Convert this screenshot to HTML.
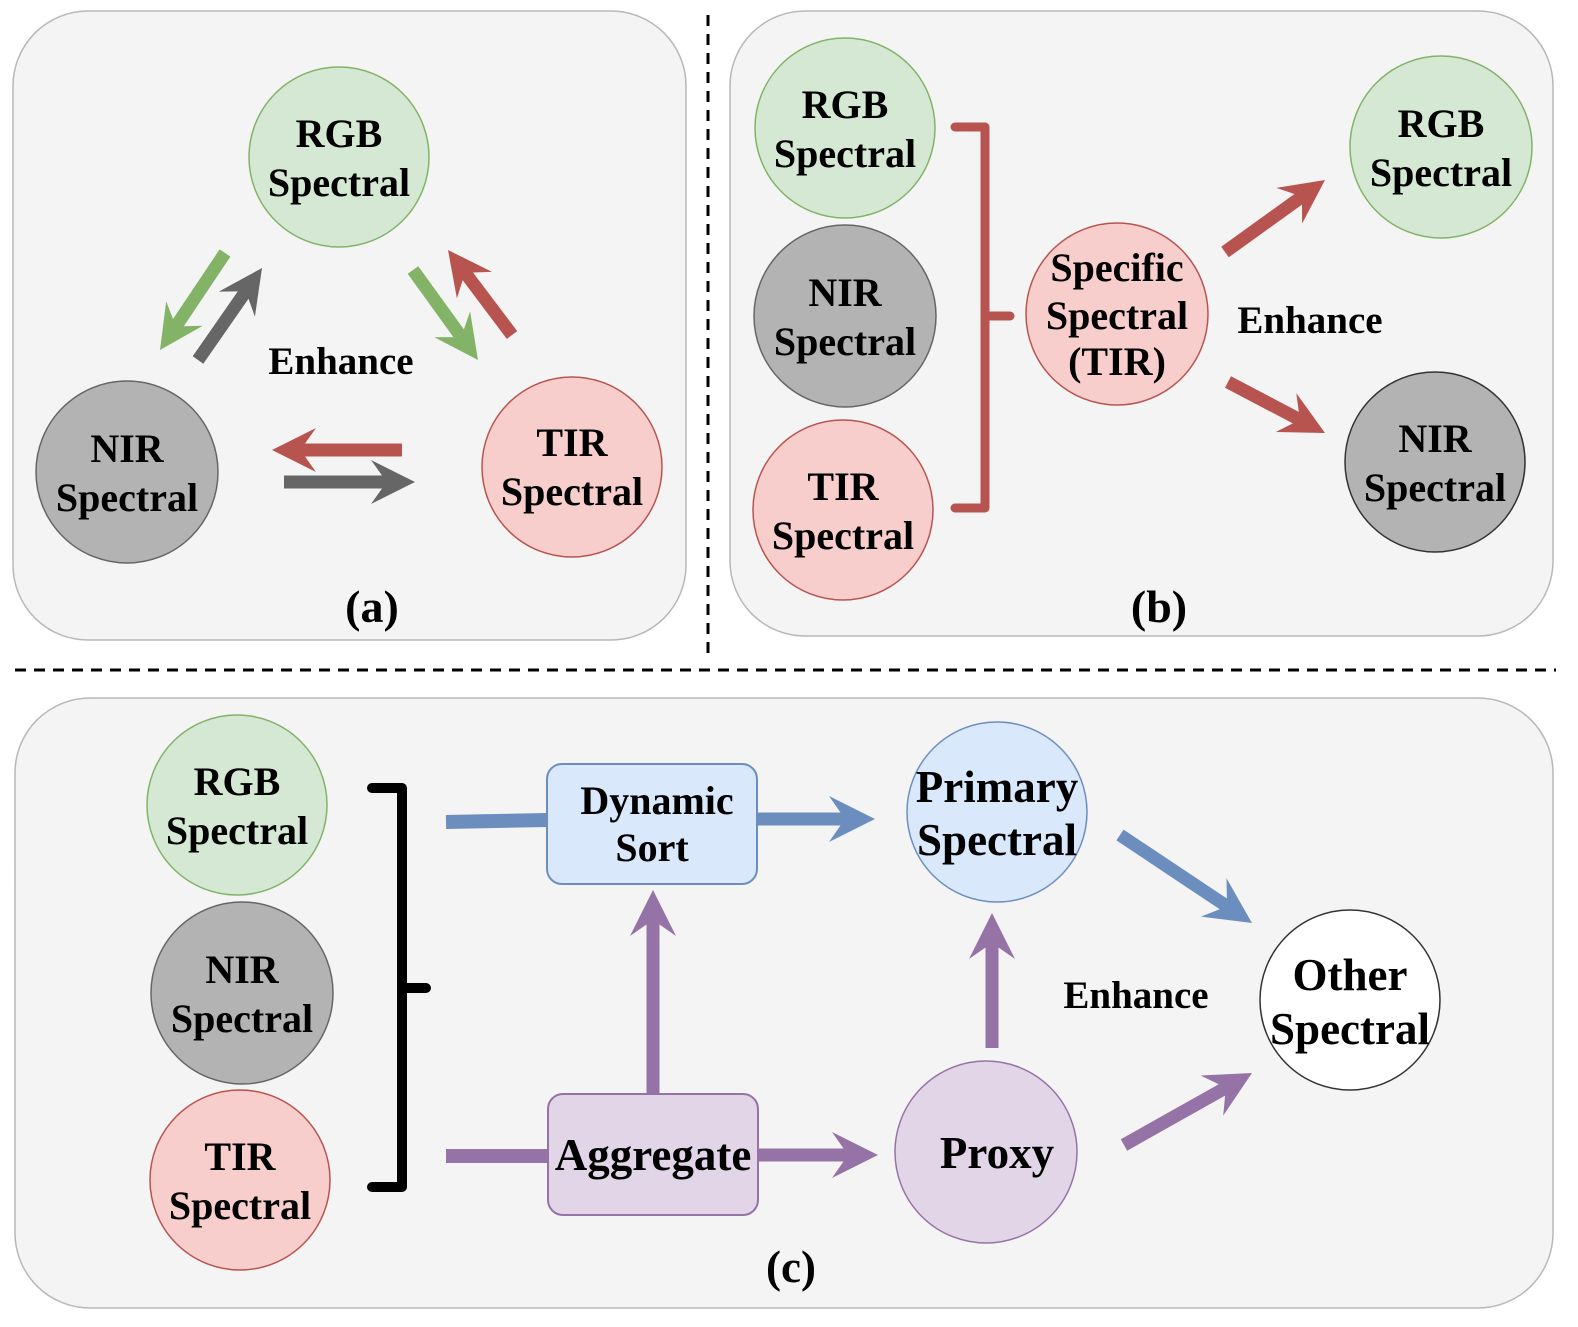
<!DOCTYPE html>
<html><head><meta charset="utf-8"><style>
html,body{margin:0;padding:0;background:#fff}
svg{display:block}
text{font-family:"Liberation Serif",serif;font-weight:bold;fill:#000;text-anchor:middle}
</style></head><body>
<svg id="s" width="1578" height="1327" viewBox="0 0 1578 1327" xmlns="http://www.w3.org/2000/svg">
<rect x="13" y="11" width="673" height="629" rx="75" fill="#f4f4f4" stroke="#b8b8b8" stroke-width="1.5"/>
<rect x="730" y="11" width="823" height="625" rx="75" fill="#f4f4f4" stroke="#b8b8b8" stroke-width="1.5"/>
<rect x="15" y="698" width="1538" height="610" rx="75" fill="#f4f4f4" stroke="#b8b8b8" stroke-width="1.5"/>
<line x1="708" y1="15" x2="708" y2="656" stroke="#000" stroke-width="3" stroke-dasharray="11,8"/>
<line x1="15" y1="670" x2="1556" y2="670" stroke="#000" stroke-width="3" stroke-dasharray="11,8"/>

<!-- panel a -->
<circle cx="339" cy="157" r="90" fill="#d5e8d4" stroke="#82b366" stroke-width="1.5"/>
<circle cx="127" cy="472" r="91" fill="#b3b3b3" stroke="#666" stroke-width="1.5"/>
<circle cx="572" cy="467" r="90" fill="#f8cecc" stroke="#b85450" stroke-width="1.5"/>
<g font-size="40">
<text x="339" y="147">RGB</text><text x="339" y="196">Spectral</text>
<text x="127" y="462">NIR</text><text x="127" y="511">Spectral</text>
<text x="572" y="456">TIR</text><text x="572" y="505">Spectral</text>
</g>
<text x="341" y="374" font-size="39">Enhance</text>
<text x="372" y="622" font-size="46">(a)</text>

<!-- panel b -->
<circle cx="845" cy="128" r="90" fill="#d5e8d4" stroke="#82b366" stroke-width="1.5"/>
<circle cx="845" cy="316" r="91" fill="#b3b3b3" stroke="#666" stroke-width="1.5"/>
<circle cx="843" cy="510" r="90" fill="#f8cecc" stroke="#b85450" stroke-width="1.5"/>
<circle cx="1117" cy="314" r="91" fill="#f8cecc" stroke="#b85450" stroke-width="1.5"/>
<circle cx="1441" cy="147" r="91" fill="#d5e8d4" stroke="#82b366" stroke-width="1.5"/>
<circle cx="1435" cy="462" r="90" fill="#b3b3b3" stroke="#333" stroke-width="1.5"/>
<path d="M955,127 H985 V508 H955 M985,316 H1010" fill="none" stroke="#b85450" stroke-width="9" stroke-linejoin="round" stroke-linecap="round"/>
<g font-size="40">
<text x="845" y="118">RGB</text><text x="845" y="167">Spectral</text>
<text x="845" y="306">NIR</text><text x="845" y="355">Spectral</text>
<text x="843" y="500">TIR</text><text x="843" y="549">Spectral</text>
<text x="1117" y="281">Specific</text><text x="1117" y="329">Spectral</text><text x="1117" y="375">(TIR)</text>
<text x="1441" y="137">RGB</text><text x="1441" y="186">Spectral</text>
<text x="1435" y="452">NIR</text><text x="1435" y="501">Spectral</text>
</g>
<text x="1310" y="333" font-size="39">Enhance</text>
<text x="1159" y="622" font-size="46">(b)</text>

<!-- panel c -->
<circle cx="237" cy="805" r="90" fill="#d5e8d4" stroke="#82b366" stroke-width="1.5"/>
<circle cx="242" cy="993" r="91" fill="#b3b3b3" stroke="#666" stroke-width="1.5"/>
<circle cx="240" cy="1180" r="90" fill="#f8cecc" stroke="#b85450" stroke-width="1.5"/>
<circle cx="997" cy="812" r="90" fill="#dae8fc" stroke="#6c8ebf" stroke-width="1.5"/>
<circle cx="986" cy="1152" r="91" fill="#e1d5e7" stroke="#9673a6" stroke-width="1.5"/>
<circle cx="1350" cy="1000" r="90" fill="#fff" stroke="#333" stroke-width="1.5"/>
<path d="M372,788 H402 V1187 H372 M402,988 H426" fill="none" stroke="#000" stroke-width="10" stroke-linejoin="round" stroke-linecap="round"/>
<line x1="446" y1="822" x2="548" y2="820" stroke="#6c8ebf" stroke-width="14"/>
<line x1="446" y1="1156" x2="549" y2="1156" stroke="#9673a6" stroke-width="14"/>
<rect x="547" y="764" width="210" height="120" rx="15" fill="#dae8fc" stroke="#6c8ebf" stroke-width="2"/>
<rect x="548" y="1094" width="210" height="121" rx="15" fill="#e1d5e7" stroke="#9673a6" stroke-width="2"/>
<g font-size="40">
<text x="237" y="795">RGB</text><text x="237" y="844">Spectral</text>
<text x="242" y="983">NIR</text><text x="242" y="1032">Spectral</text>
<text x="240" y="1170">TIR</text><text x="240" y="1219">Spectral</text>
<text x="657" y="814">Dynamic</text><text x="652" y="861">Sort</text>
</g>
<g font-size="45">
<text x="653" y="1170">Aggregate</text>
<text x="997" y="802">Primary</text><text x="997" y="855">Spectral</text>
<text x="997" y="1168">Proxy</text>
<text x="1350" y="990">Other</text><text x="1350" y="1044">Spectral</text>
<text x="791" y="1282">(c)</text>
</g>
<text x="1136" y="1008" font-size="39">Enhance</text>
<g id="arrows"></g>
</svg>
<script>
function arr(x1,y1,x2,y2,w,hw,hl,c){
 var dx=x2-x1,dy=y2-y1,L=Math.hypot(dx,dy),ux=dx/L,uy=dy/L,nx=-uy,ny=ux;
 var bx=x2-ux*hl,by=y2-uy*hl,ix=bx+ux*hl*0.25,iy=by+uy*hl*0.25;
 var p=[[x1+nx*w/2,y1+ny*w/2],[ix+nx*w/2,iy+ny*w/2],[bx+nx*hw/2,by+ny*hw/2],[x2,y2],[bx-nx*hw/2,by-ny*hw/2],[ix-nx*w/2,iy-ny*w/2],[x1-nx*w/2,y1-ny*w/2]];
 var e=document.createElementNS("http://www.w3.org/2000/svg","polygon");
 e.setAttribute("points",p.map(function(q){return q[0].toFixed(1)+","+q[1].toFixed(1)}).join(" "));
 e.setAttribute("fill",c);document.getElementById("arrows").appendChild(e);
}
var G="#82b366",D="#666666",R="#b85450",B="#6c8ebf",P="#9673a6";
arr(225,253,160,350,13,44,44,G);
arr(198,360,262,268,13,44,44,D);
arr(413,270,478,360,13,44,44,G);
arr(512,335,448,250,13,44,44,R);
arr(402,450,272,450,13,44,44,R);
arr(284,482,415,482,13,44,44,D);
arr(1225,252,1325,180,13,44,44,R);
arr(1228,382,1325,433,13,44,44,R);
arr(757,819,875,819,13,46,46,B);
arr(758,1155,878,1155,13,46,46,P);
arr(653,1094,653,890,13,46,46,P);
arr(992,1048,992,913,13,46,46,P);
arr(1120,835,1252,923,13,46,46,B);
arr(1124,1145,1252,1073,13,46,46,P);
</script>
</body></html>
